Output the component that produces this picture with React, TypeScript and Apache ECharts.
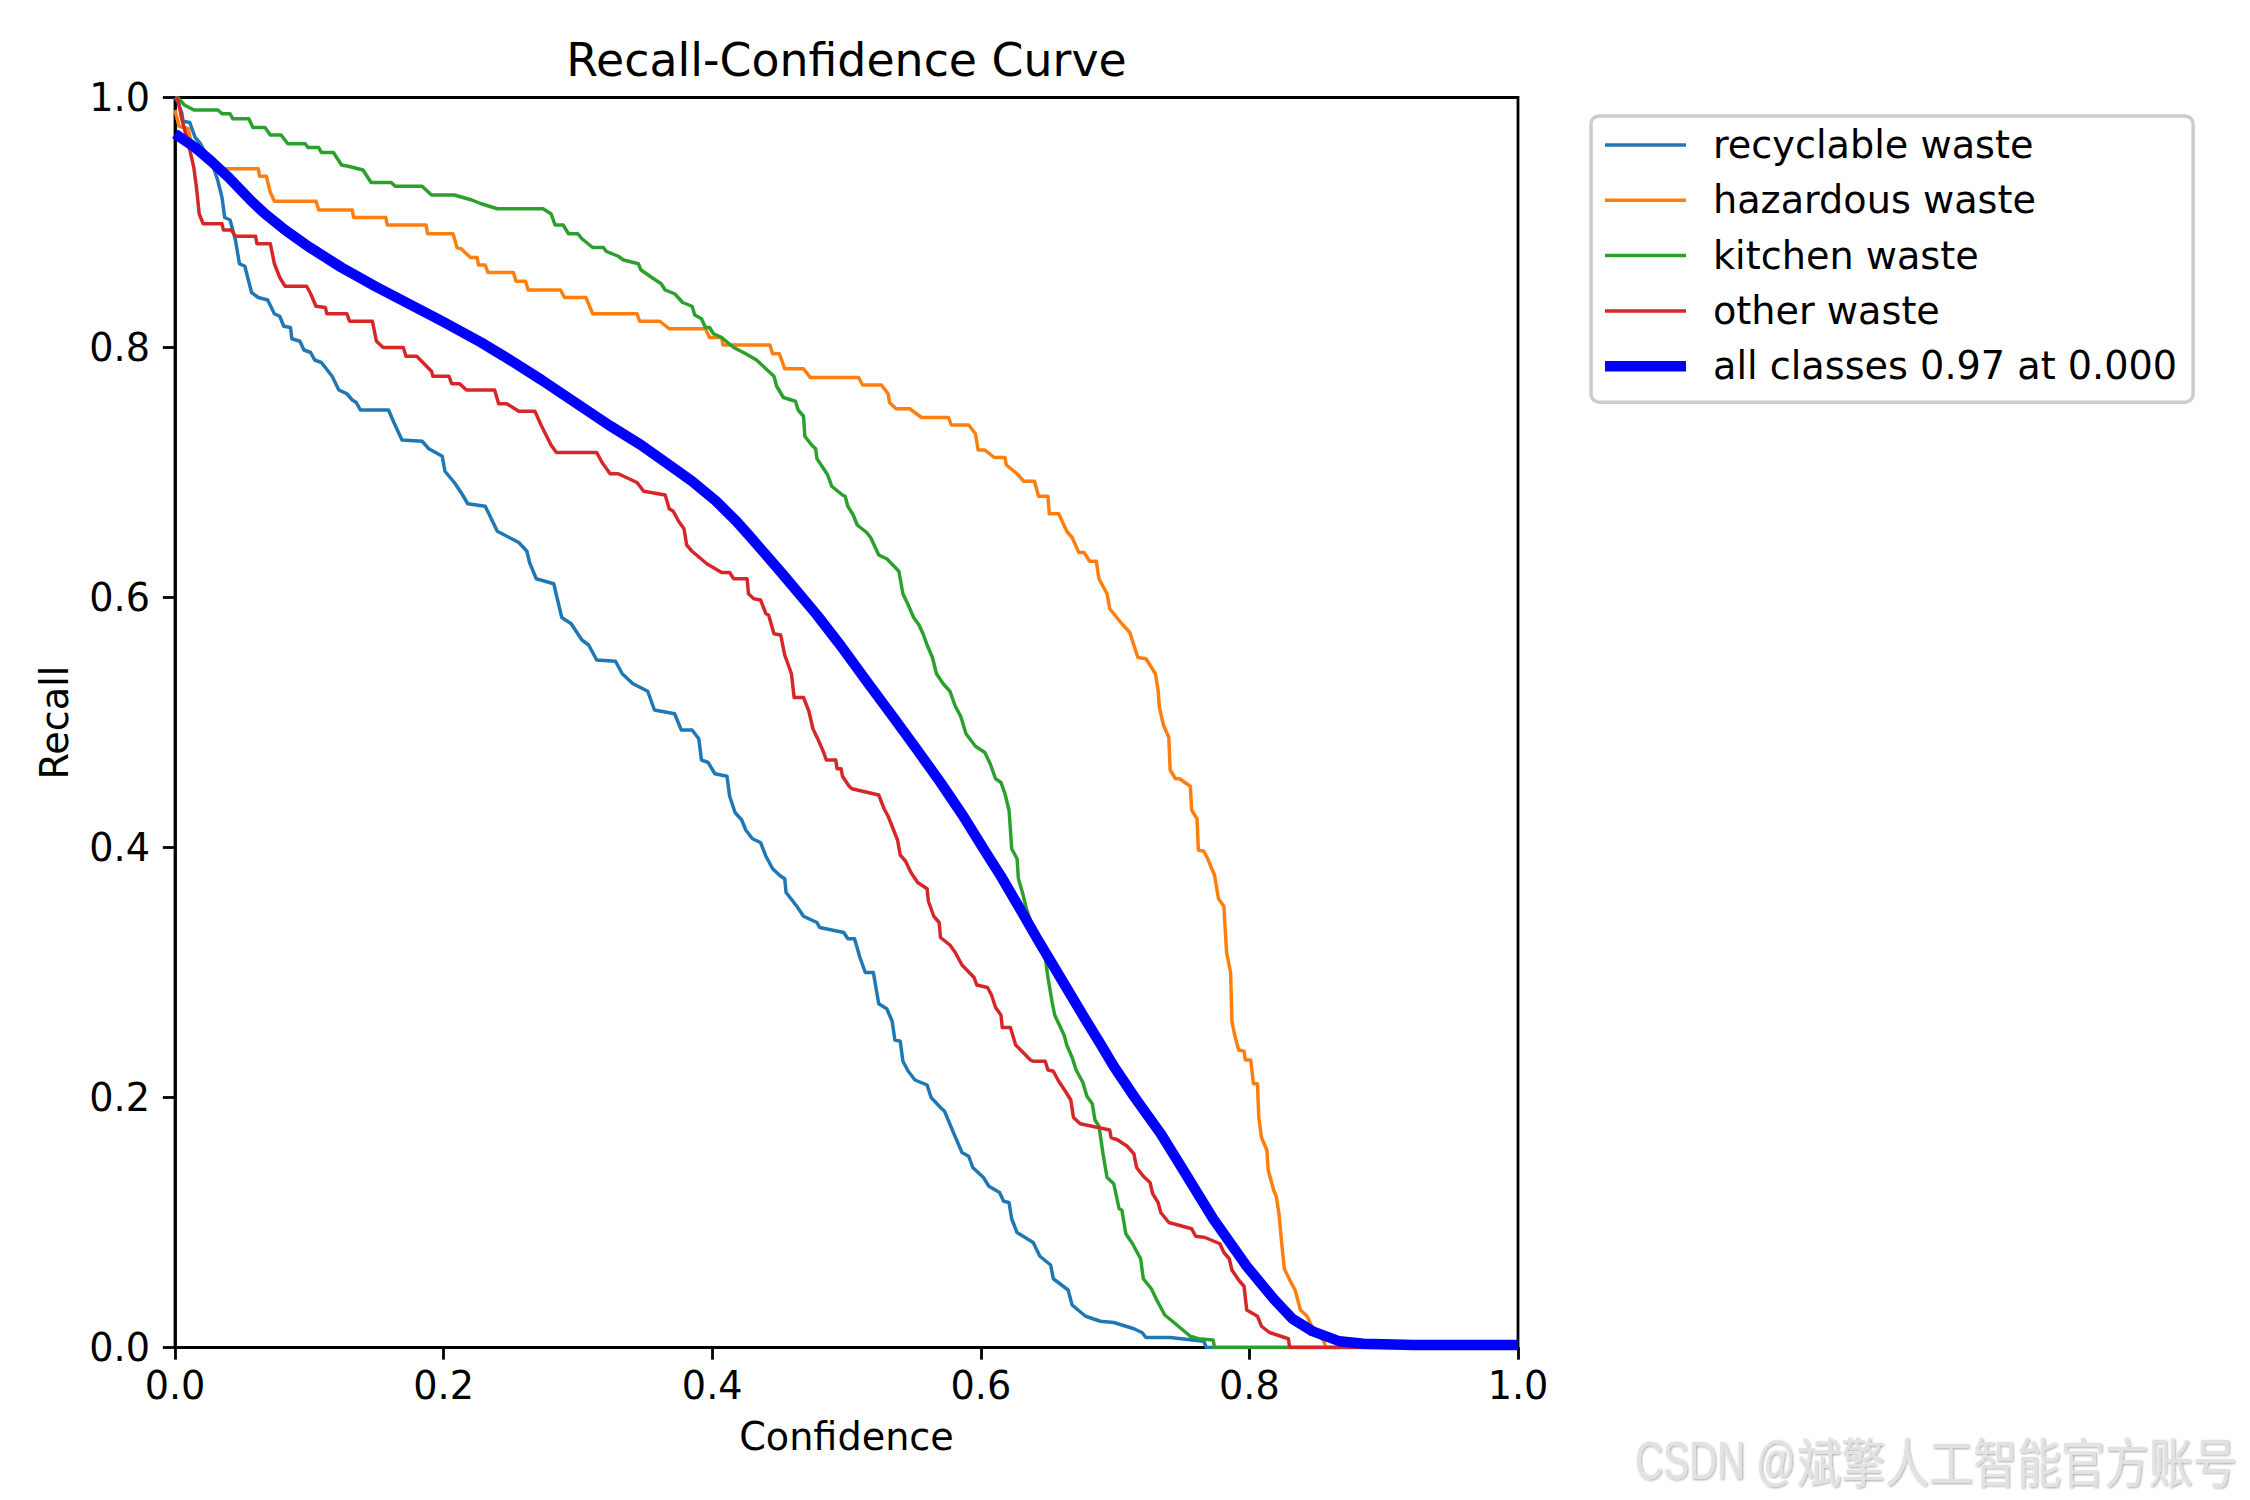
import React, { useEffect, useRef } from "react";
import * as echarts from "echarts";

// ---------- data (confidence, recall) ----------
const classNames = ["recyclable waste", "hazardous waste", "kitchen waste", "other waste"];
const classColors = ["#1f77b4", "#ff7f0e", "#2ca02c", "#d62728"];
const allClassesName = "all classes 0.97 at 0.000";
const allClassesColor = "#0000ff";
const xTicks = [0, 0.2, 0.4, 0.6, 0.8, 1.0];

const recyclableWaste = [
  [0, 1.0], [0.002, 0.997], [0.005, 0.988], [0.006, 0.981], [0.011, 0.98], [0.015, 0.968], [0.019, 0.963],
  [0.024, 0.953], [0.029, 0.943], [0.032, 0.933], [0.035, 0.92], [0.037, 0.904], [0.041, 0.902], [0.045, 0.886],
  [0.048, 0.867], [0.052, 0.865], [0.057, 0.844], [0.062, 0.84], [0.069, 0.838], [0.074, 0.827], [0.078, 0.825],
  [0.081, 0.817], [0.086, 0.816], [0.087, 0.807], [0.093, 0.805], [0.096, 0.798], [0.101, 0.796], [0.104, 0.79],
  [0.109, 0.788], [0.117, 0.777], [0.122, 0.766], [0.128, 0.763], [0.132, 0.758], [0.135, 0.756], [0.138, 0.75],
  [0.159, 0.75], [0.163, 0.74], [0.169, 0.726], [0.184, 0.725], [0.189, 0.719], [0.199, 0.713], [0.201, 0.701],
  [0.208, 0.692], [0.213, 0.684], [0.218, 0.675], [0.231, 0.673], [0.24, 0.653], [0.256, 0.644], [0.262, 0.637],
  [0.264, 0.628], [0.269, 0.615], [0.282, 0.611], [0.288, 0.584], [0.295, 0.579], [0.303, 0.566], [0.308, 0.562],
  [0.314, 0.55], [0.328, 0.549], [0.333, 0.539], [0.341, 0.531], [0.352, 0.525], [0.357, 0.51], [0.372, 0.507],
  [0.377, 0.494], [0.385, 0.494], [0.39, 0.487], [0.392, 0.47], [0.397, 0.468], [0.402, 0.459], [0.411, 0.457],
  [0.413, 0.441], [0.417, 0.428], [0.422, 0.422], [0.425, 0.414], [0.43, 0.407], [0.436, 0.404], [0.44, 0.393],
  [0.445, 0.383], [0.451, 0.377], [0.454, 0.375], [0.455, 0.364], [0.463, 0.353], [0.468, 0.345], [0.478, 0.34],
  [0.48, 0.336], [0.498, 0.332], [0.501, 0.327], [0.506, 0.327], [0.51, 0.312], [0.514, 0.3], [0.52, 0.3],
  [0.524, 0.275], [0.53, 0.271], [0.534, 0.261], [0.536, 0.246], [0.54, 0.245], [0.542, 0.229], [0.546, 0.221],
  [0.551, 0.214], [0.56, 0.21], [0.563, 0.2], [0.57, 0.192], [0.573, 0.189], [0.58, 0.171], [0.586, 0.156],
  [0.591, 0.153], [0.594, 0.144], [0.602, 0.136], [0.606, 0.129], [0.614, 0.124], [0.617, 0.117], [0.621, 0.116],
  [0.623, 0.103], [0.627, 0.092], [0.639, 0.084], [0.644, 0.073], [0.652, 0.066], [0.654, 0.055], [0.665, 0.046],
  [0.668, 0.034], [0.678, 0.025], [0.689, 0.021], [0.699, 0.02], [0.714, 0.015], [0.72, 0.012], [0.723, 0.008],
  [0.741, 0.008], [0.766, 0.005], [0.768, 0], [1.0, 0],
];

const hazardousWaste = [
  [0, 0.99], [0.003, 0.977], [0.01, 0.975], [0.012, 0.963], [0.02, 0.955], [0.03, 0.945], [0.037, 0.943],
  [0.062, 0.943], [0.063, 0.937], [0.068, 0.937], [0.071, 0.924], [0.074, 0.917], [0.105, 0.917], [0.107, 0.91],
  [0.132, 0.91], [0.133, 0.904], [0.157, 0.904], [0.158, 0.898], [0.187, 0.898], [0.188, 0.891], [0.207, 0.891],
  [0.21, 0.88], [0.213, 0.879], [0.22, 0.872], [0.225, 0.872], [0.226, 0.866], [0.231, 0.866], [0.233, 0.86],
  [0.252, 0.86], [0.254, 0.853], [0.261, 0.853], [0.263, 0.846], [0.287, 0.846], [0.29, 0.84], [0.306, 0.84],
  [0.311, 0.827], [0.344, 0.827], [0.346, 0.821], [0.361, 0.821], [0.368, 0.815], [0.395, 0.815], [0.398, 0.808],
  [0.407, 0.808], [0.408, 0.802], [0.443, 0.802], [0.445, 0.795], [0.45, 0.795], [0.452, 0.789], [0.454, 0.783],
  [0.468, 0.783], [0.473, 0.776], [0.509, 0.776], [0.512, 0.77], [0.526, 0.77], [0.531, 0.763], [0.532, 0.756],
  [0.537, 0.751], [0.547, 0.751], [0.556, 0.744], [0.576, 0.744], [0.578, 0.738], [0.591, 0.738], [0.596, 0.731],
  [0.598, 0.718], [0.603, 0.718], [0.61, 0.712], [0.618, 0.712], [0.619, 0.706], [0.627, 0.699], [0.632, 0.693],
  [0.64, 0.693], [0.643, 0.681], [0.65, 0.681], [0.651, 0.667], [0.658, 0.667], [0.664, 0.653], [0.668, 0.648],
  [0.673, 0.636], [0.677, 0.636], [0.681, 0.629], [0.686, 0.629], [0.688, 0.615], [0.694, 0.603], [0.696, 0.591],
  [0.705, 0.579], [0.711, 0.572], [0.713, 0.565], [0.717, 0.552], [0.723, 0.551], [0.73, 0.539], [0.732, 0.526],
  [0.733, 0.512], [0.736, 0.498], [0.74, 0.488], [0.741, 0.462], [0.745, 0.455], [0.748, 0.455], [0.756, 0.449],
  [0.757, 0.43], [0.761, 0.423], [0.762, 0.398], [0.766, 0.397], [0.769, 0.391], [0.772, 0.383], [0.774, 0.378],
  [0.777, 0.359], [0.781, 0.353], [0.783, 0.316], [0.786, 0.3], [0.787, 0.261], [0.789, 0.25], [0.792, 0.238],
  [0.796, 0.237], [0.797, 0.23], [0.801, 0.23], [0.803, 0.211], [0.806, 0.211], [0.807, 0.184], [0.809, 0.168],
  [0.813, 0.158], [0.814, 0.142], [0.818, 0.126], [0.82, 0.121], [0.822, 0.107], [0.824, 0.084], [0.826, 0.063],
  [0.83, 0.054], [0.834, 0.046], [0.838, 0.03], [0.843, 0.025], [0.848, 0.013], [0.855, 0.006], [0.857, 0], [1.0, 0],
];

const kitchenWaste = [
  [0, 1.0], [0.002, 1.0], [0.007, 0.994], [0.014, 0.99], [0.032, 0.99], [0.035, 0.987], [0.041, 0.987],
  [0.043, 0.983], [0.055, 0.983], [0.058, 0.976], [0.067, 0.976], [0.071, 0.97], [0.079, 0.97], [0.084, 0.963],
  [0.097, 0.963], [0.099, 0.96], [0.107, 0.96], [0.109, 0.956], [0.118, 0.956], [0.124, 0.946], [0.129, 0.945],
  [0.14, 0.942], [0.146, 0.932], [0.161, 0.932], [0.164, 0.929], [0.184, 0.929], [0.191, 0.922], [0.208, 0.922],
  [0.221, 0.918], [0.228, 0.915], [0.24, 0.911], [0.274, 0.911], [0.28, 0.907], [0.283, 0.898], [0.289, 0.898],
  [0.293, 0.891], [0.3, 0.891], [0.303, 0.887], [0.311, 0.88], [0.319, 0.88], [0.321, 0.877], [0.33, 0.873],
  [0.334, 0.87], [0.345, 0.867], [0.347, 0.862], [0.355, 0.856], [0.362, 0.851], [0.365, 0.846], [0.372, 0.843],
  [0.378, 0.836], [0.385, 0.833], [0.387, 0.826], [0.392, 0.823], [0.395, 0.816], [0.398, 0.816], [0.401, 0.811],
  [0.407, 0.808], [0.416, 0.8], [0.425, 0.795], [0.433, 0.79], [0.436, 0.787], [0.446, 0.777], [0.448, 0.769],
  [0.453, 0.76], [0.462, 0.757], [0.464, 0.75], [0.468, 0.745], [0.469, 0.729], [0.474, 0.722], [0.477, 0.719],
  [0.478, 0.711], [0.483, 0.703], [0.486, 0.698], [0.489, 0.689], [0.497, 0.682], [0.499, 0.681], [0.501, 0.673],
  [0.505, 0.666], [0.508, 0.658], [0.515, 0.652], [0.518, 0.648], [0.524, 0.634], [0.53, 0.631], [0.539, 0.621],
  [0.542, 0.603], [0.546, 0.594], [0.55, 0.584], [0.554, 0.578], [0.557, 0.571], [0.56, 0.562], [0.564, 0.552],
  [0.567, 0.539], [0.572, 0.531], [0.577, 0.525], [0.581, 0.513], [0.585, 0.505], [0.589, 0.491], [0.596, 0.481],
  [0.603, 0.476], [0.607, 0.467], [0.611, 0.455], [0.615, 0.452], [0.618, 0.443], [0.621, 0.43], [0.622, 0.415],
  [0.623, 0.399], [0.627, 0.391], [0.628, 0.375], [0.631, 0.364], [0.634, 0.351], [0.638, 0.338], [0.642, 0.322],
  [0.648, 0.312], [0.65, 0.296], [0.653, 0.277], [0.655, 0.266], [0.662, 0.25], [0.664, 0.242], [0.668, 0.232],
  [0.671, 0.222], [0.676, 0.212], [0.679, 0.201], [0.683, 0.195], [0.685, 0.182], [0.688, 0.177], [0.691, 0.155],
  [0.694, 0.136], [0.699, 0.131], [0.703, 0.111], [0.705, 0.11], [0.708, 0.091], [0.713, 0.083], [0.719, 0.071],
  [0.721, 0.055], [0.727, 0.047], [0.731, 0.038], [0.737, 0.026], [0.746, 0.018], [0.756, 0.009], [0.762, 0.007],
  [0.773, 0.006], [0.774, 0], [1.0, 0],
];

const otherWaste = [
  [0, 1.0], [0.002, 0.999], [0.005, 0.983], [0.01, 0.963], [0.014, 0.944], [0.016, 0.928], [0.018, 0.907],
  [0.021, 0.899], [0.035, 0.899], [0.036, 0.894], [0.042, 0.894], [0.045, 0.889], [0.06, 0.889], [0.061, 0.883],
  [0.071, 0.883], [0.074, 0.867], [0.078, 0.856], [0.082, 0.849], [0.098, 0.849], [0.101, 0.843], [0.105, 0.833],
  [0.112, 0.832], [0.113, 0.827], [0.128, 0.827], [0.13, 0.821], [0.147, 0.821], [0.15, 0.805], [0.155, 0.8],
  [0.17, 0.8], [0.172, 0.793], [0.18, 0.793], [0.191, 0.781], [0.192, 0.777], [0.204, 0.777], [0.206, 0.771],
  [0.212, 0.771], [0.217, 0.766], [0.238, 0.766], [0.241, 0.755], [0.247, 0.755], [0.256, 0.749], [0.268, 0.749],
  [0.273, 0.737], [0.28, 0.722], [0.284, 0.716], [0.314, 0.716], [0.318, 0.708], [0.324, 0.699], [0.33, 0.699],
  [0.344, 0.692], [0.349, 0.685], [0.365, 0.682], [0.368, 0.671], [0.371, 0.669], [0.375, 0.661], [0.379, 0.655],
  [0.381, 0.642], [0.385, 0.637], [0.396, 0.627], [0.407, 0.62], [0.413, 0.62], [0.416, 0.615], [0.426, 0.615],
  [0.427, 0.603], [0.431, 0.599], [0.436, 0.598], [0.44, 0.587], [0.442, 0.586], [0.446, 0.571], [0.451, 0.57],
  [0.454, 0.554], [0.459, 0.539], [0.461, 0.52], [0.468, 0.52], [0.472, 0.509], [0.475, 0.495], [0.479, 0.486],
  [0.483, 0.476], [0.485, 0.47], [0.492, 0.47], [0.493, 0.463], [0.496, 0.463], [0.497, 0.457], [0.502, 0.449],
  [0.504, 0.447], [0.524, 0.442], [0.528, 0.431], [0.531, 0.425], [0.538, 0.406], [0.54, 0.394], [0.544, 0.389],
  [0.548, 0.38], [0.553, 0.372], [0.56, 0.367], [0.561, 0.357], [0.565, 0.345], [0.569, 0.34], [0.57, 0.328],
  [0.577, 0.322], [0.581, 0.316], [0.586, 0.306], [0.595, 0.296], [0.597, 0.29], [0.605, 0.288], [0.608, 0.282],
  [0.611, 0.272], [0.615, 0.266], [0.616, 0.256], [0.622, 0.256], [0.626, 0.242], [0.637, 0.23], [0.639, 0.229],
  [0.648, 0.229], [0.65, 0.222], [0.654, 0.221], [0.658, 0.213], [0.663, 0.205], [0.667, 0.198], [0.669, 0.184],
  [0.674, 0.179], [0.696, 0.174], [0.697, 0.168], [0.702, 0.166], [0.709, 0.161], [0.714, 0.155], [0.716, 0.144],
  [0.721, 0.137], [0.726, 0.132], [0.728, 0.123], [0.732, 0.116], [0.734, 0.108], [0.74, 0.1], [0.757, 0.095],
  [0.76, 0.089], [0.767, 0.088], [0.778, 0.083], [0.781, 0.076], [0.785, 0.071], [0.787, 0.062], [0.792, 0.054],
  [0.796, 0.049], [0.798, 0.03], [0.806, 0.025], [0.809, 0.017], [0.815, 0.012], [0.829, 0.007], [0.83, 0], [1.0, 0],
];

const allClasses = [
  [0, 0.971], [0.015, 0.96], [0.027, 0.949], [0.04, 0.936], [0.057, 0.917], [0.067, 0.907], [0.082, 0.894],
  [0.099, 0.881], [0.124, 0.864], [0.149, 0.849], [0.174, 0.835], [0.199, 0.821], [0.228, 0.804], [0.248, 0.791],
  [0.273, 0.774], [0.298, 0.756], [0.323, 0.738], [0.347, 0.722], [0.372, 0.703], [0.385, 0.693], [0.403, 0.677],
  [0.418, 0.661], [0.428, 0.649], [0.453, 0.618], [0.478, 0.586], [0.496, 0.561], [0.515, 0.533], [0.535, 0.504],
  [0.552, 0.479], [0.57, 0.452], [0.587, 0.425], [0.602, 0.399], [0.615, 0.377], [0.627, 0.355], [0.642, 0.327],
  [0.652, 0.309], [0.667, 0.282], [0.677, 0.264], [0.689, 0.243], [0.699, 0.225], [0.714, 0.201], [0.734, 0.171],
  [0.749, 0.145], [0.773, 0.103], [0.798, 0.065], [0.818, 0.039], [0.832, 0.023], [0.847, 0.013], [0.867, 0.005],
  [0.885, 0.003], [0.922, 0.002], [1.0, 0.002],
];

const classSeries = [recyclableWaste, hazardousWaste, kitchenWaste, otherWaste];

const FONT = "'DejaVu Sans', sans-serif";
const BASE = 38.2; // 11pt at 250 dpi
const thinIcon = "path://M0,0L81,0L81,3.5L0,3.5Z";

const watermarkStyle = {
  fill: "#e2e2e2",
  align: "left",
  verticalAlign: "middle",
  lineHeight: 56,
  textShadowColor: "rgba(0,0,0,0.35)",
  textShadowBlur: 2,
  textShadowOffsetX: 1,
  textShadowOffsetY: 1,
};

function buildOption() {
  return {
    animation: false,
    backgroundColor: "#ffffff",
    textStyle: { fontFamily: FONT },
    grid: {
      left: 175,
      top: 97.5,
      width: 1343,
      height: 1250,
      show: true,
      borderColor: "#000000",
      borderWidth: 2.8,
      backgroundColor: "transparent",
      containLabel: false,
      outerBoundsMode: "none",
    },
    graphic: [
      {
        type: "text",
        x: 846.5,
        y: 60,
        silent: true,
        style: {
          text: "Recall-Confidence Curve",
          fontSize: 45.8,
          fontFamily: FONT,
          fill: "#000000",
          align: "center",
          verticalAlign: "middle",
        },
      },
      {
        type: "group",
        x: 1635,
        y: 1460,
        scaleX: 0.72,
        silent: true,
        children: [
          {
            type: "text",
            x: 0,
            y: 0,
            style: {
              ...watermarkStyle,
              text: "CSDN @",
              fontSize: 54,
              fontFamily: "'Liberation Sans', 'Noto Sans', sans-serif",
            },
          },
        ],
      },
      {
        type: "group",
        x: 1797,
        y: 1460,
        scaleX: 0.83,
        silent: true,
        children: [
          {
            type: "text",
            x: 0,
            y: 0,
            style: {
              ...watermarkStyle,
              text: "斌擎人工智能官方账号",
              fontSize: 53,
              fontFamily: "'Noto Sans CJK SC', sans-serif",
            },
          },
        ],
      },
    ],
    legend: {
      show: true,
      orient: "vertical",
      left: 1591,
      top: 116,
      itemWidth: 81,
      itemHeight: 10.4,
      itemGap: 11.3,
      padding: [7, 16, 14, 14],
      backgroundColor: "rgba(255,255,255,0.8)",
      borderColor: "#cccccc",
      borderWidth: 3.5,
      borderRadius: 8,
      selectedMode: false,
      itemStyle: { borderWidth: 0 },
      textStyle: {
        color: "#000000",
        fontSize: BASE,
        fontFamily: FONT,
        lineHeight: 44,
        padding: [0, 0, 0, 22],
      },
      data: [
        ...classNames.map((n) => ({ name: n, icon: thinIcon })),
        { name: allClassesName, icon: "rect" },
      ],
    },
    xAxis: {
      type: "value",
      min: xTicks[0],
      max: xTicks[xTicks.length - 1],
      interval: 0.2,
      name: "Confidence",
      nameLocation: "middle",
      nameGap: 70,
      nameTextStyle: { fontSize: BASE, color: "#000000", fontFamily: FONT },
      axisLine: { show: true, onZero: false, lineStyle: { color: "#000000", width: 2.8 } },
      axisTick: { show: true, inside: false, length: 12.15, lineStyle: { color: "#000000", width: 2.8 } },
      axisLabel: {
        show: true,
        margin: 19,
        fontSize: BASE,
        color: "#000000",
        fontFamily: FONT,
        formatter: (v: number) => v.toFixed(1),
      },
      splitLine: { show: false },
    },
    yAxis: {
      type: "value",
      min: 0,
      max: 1,
      interval: 0.2,
      name: "Recall",
      nameLocation: "middle",
      nameGap: 101,
      nameRotate: 90,
      nameTextStyle: { fontSize: BASE, color: "#000000", fontFamily: FONT },
      axisLine: { show: true, onZero: false, lineStyle: { color: "#000000", width: 2.8 } },
      axisTick: { show: true, inside: false, length: 12.15, lineStyle: { color: "#000000", width: 2.8 } },
      axisLabel: {
        show: true,
        margin: 25,
        fontSize: BASE,
        color: "#000000",
        fontFamily: FONT,
        formatter: (v: number) => v.toFixed(1),
      },
      splitLine: { show: false },
    },
    series: [
      ...classNames.map((n, i) => ({
        type: "line",
        name: n,
        data: classSeries[i],
        showSymbol: false,
        symbol: "none",
        silent: true,
        clip: true,
        color: classColors[i],
        itemStyle: { color: classColors[i] },
        lineStyle: { width: 3.47, color: classColors[i], join: "round", cap: "butt" },
        emphasis: { disabled: true },
        z: 2,
      })),
      {
        type: "line",
        name: allClassesName,
        data: allClasses,
        showSymbol: false,
        symbol: "none",
        silent: true,
        clip: true,
        color: allClassesColor,
        itemStyle: { color: allClassesColor },
        lineStyle: { width: 10.4, color: allClassesColor, join: "round", cap: "butt" },
        emphasis: { disabled: true },
        z: 3,
      },
    ],
  };
}

export default function App() {
  const ref = useRef<HTMLDivElement>(null);
  useEffect(() => {
    if (!ref.current) return;
    const chart = echarts.init(ref.current, null, { renderer: "svg" });
    chart.setOption(buildOption() as any);
    return () => chart.dispose();
  }, []);
  return (
    <div
      ref={ref}
      style={{ position: "fixed", left: 0, top: 0, width: 2250, height: 1500, background: "#ffffff" }}
    />
  );
}
